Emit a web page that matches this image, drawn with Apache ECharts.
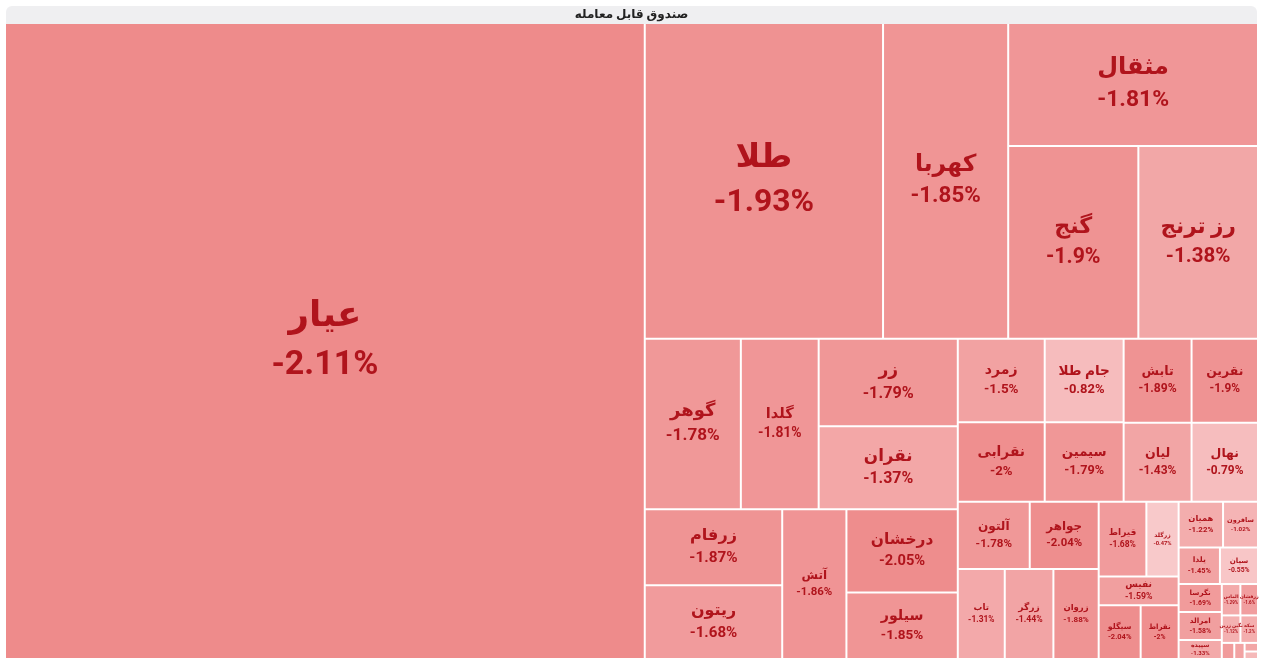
<!DOCTYPE html>
<html>
<head>
<meta charset="utf-8">
<script src="https://cdn.jsdelivr.net/npm/echarts@6/dist/echarts.min.js"></script>
<style>
html,body{margin:0;padding:0;background:#ffffff;}
#chart{width:1263px;height:662px;}
</style>
</head>
<body>
<div id="chart"></div>
<script>
// ---------- data ----------
const rootName = 'صندوق قابل معامله';
const names = ['عیار','طلا','کهربا','مثقال','گنج','رز ترنج','گوهر','گلدا','زر','نقران','زرفام','ریتون','آتش','درخشان','سیلور','زمرد','نقرابی','جام طلا','سیمین','تابش','نقرین','لیان','نهال','آلتون','جواهر','تاب','زرگر','زروان','قیراط','زرگلد','نفیس','سیگلو','نقراط','همیان','سافرون','یلدا','سیان','نگرسا','امرالد','سپیده','الماس','زرفشان','نگین زرین','سکه','گلنار','زرین','آوا','مهر'];
const sizes = [404809,74851,39313,30564,24960,22944,16300,13200,12100,11500,10412,10070,9568,9213,7382,7221,6873,6557,6241,5678,5553,5338,5220,4824,4623,4200,4350,4050,3549,2400,2280,2247,2033,2025,1593,1500,1382,1200,1200,820,580,550,510,480,200,165,115,100];
const changes = [-2.11,-1.93,-1.85,-1.81,-1.9,-1.38,-1.78,-1.81,-1.79,-1.37,-1.87,-1.68,-1.86,-2.05,-1.85,-1.5,-2,-0.82,-1.79,-1.89,-1.9,-1.43,-0.79,-1.78,-2.04,-1.31,-1.44,-1.88,-1.68,-0.47,-1.59,-2.04,-2,-1.22,-1.02,-1.45,-0.55,-1.69,-1.58,-1.33,-1.29,-1.6,-1.12,-1.2,-1.7,-1.5,-1.4,-0.9];

// ---------- styling helpers ----------
const FONT = 'Roboto, "DejaVu Sans", sans-serif';
const TXT = '#b0141c';
const LIGHT = [251,219,220], DARK = [238,139,139];
function cellColor(v){
  const t = Math.min(Math.abs(v)/2.11, 1);
  return 'rgb(' + LIGHT.map((x,i)=>Math.round(x + (DARK[i]-x)*t)).join(',') + ')';
}
function fontFor(w,h){
  const s = Math.sqrt(w*h);
  return Math.min(0.5*Math.pow(s,0.74), w/5.6, h/2.6, 34);
}
function leafItem(i, w, h){
  let f = fontFor(w,h);
  const show = f >= 3;
  f = Math.max(f, 4.5);
  const lh = f*1.42;
  const padTop = Math.max(0, (h - 2 - 2*lh)/2);
  const base = {fontWeight:'bold', color:TXT, fontFamily:FONT, align:'center', lineHeight: lh};
  return {
    name: names[i],
    value: [sizes[i], changes[i]],
    itemStyle: {color: cellColor(changes[i]), borderWidth: 0},
    label: {show: show, padding: [padTop,0,0,0], rich: {
      n: Object.assign({}, base, {fontSize: f*1.05}),
      v: Object.assign({}, base, {fontSize: f})
    }}
  };
}
// balanced binary grouping of the (ordered) funds; rect only used for font sizing
function build(idx, x0, y0, x1, y1){
  if (idx.length === 1) return leafItem(idx[0], x1-x0, y1-y0);
  const vals = idx.map(i=>sizes[i]);
  const total = vals.reduce((a,b)=>a+b,0);
  const P = [0]; vals.forEach(v=>P.push(P[P.length-1]+v));
  const target = total/2;
  let k = 1;
  while (k < idx.length-1 && P[k] < target) k++;
  if (k > 1 && (target-P[k-1]) < (P[k]-target)) k--;
  const frac = P[k]/total;
  let a, b;
  if ((x1-x0) > (y1-y0)) {
    const xk = x0 + (x1-x0)*frac;
    a = build(idx.slice(0,k), x0, y0, xk, y1);
    b = build(idx.slice(k), xk, y0, x1, y1);
  } else {
    const yk = y0 + (y1-y0)*frac;
    a = build(idx.slice(0,k), x0, y0, x1, yk);
    b = build(idx.slice(k), x0, yk, x1, y1);
  }
  return {name:'', children:[a,b], itemStyle:{borderColor:'#ffffff', borderWidth:0, gapWidth:2}};
}

const allIdx = names.map((_,i)=>i);
const wrapper = build(allIdx, 0, 0, 1253, 636);

const treeData = [{
  name: rootName,
  itemStyle: {borderColor:'#efeff1', borderWidth:0, gapWidth:0, borderRadius:6},
  upperLabel: {show:true, height:18, position:'inside', formatter:'{b}', color:'#222222', fontSize:12, fontWeight:'bold', fontFamily:FONT},
  children: [wrapper]
}];

const chart = echarts.init(document.getElementById('chart'));
chart.setOption({
  backgroundColor:'#ffffff',
  animation:false,
  series:[{
    type:'treemap',
    left:6, top:6, width:1251, height:652,
    roam:false, nodeClick:false,
    sort:false,
    squareRatio:1e-6,
    breadcrumb:{show:false},
    itemStyle:{borderWidth:0, gapWidth:0, borderColor:'#ffffff'},
    label:{
      show:true, position:'inside', overflow:'none', color:TXT,
      formatter: p => '{n|' + p.name + '}\n{v|' + p.value[1] + '%}'
    },
    upperLabel:{show:false},
    data: treeData
  }]
});
</script>
</body>
</html>
